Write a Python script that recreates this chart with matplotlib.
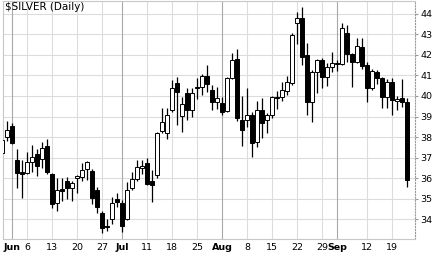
import matplotlib
matplotlib.use("Agg")
import matplotlib.pyplot as plt

# trading days shown (2011)
dates = ["May27", "May31", "Jun1", "Jun2", "Jun3", "Jun6", "Jun7", "Jun8", "Jun9", "Jun10",
         "Jun13", "Jun14", "Jun15", "Jun16", "Jun17", "Jun20", "Jun21", "Jun22", "Jun23", "Jun24",
         "Jun27", "Jun28", "Jun29", "Jun30", "Jul1", "Jul5", "Jul6", "Jul7", "Jul8",
         "Jul11", "Jul12", "Jul13", "Jul14", "Jul15", "Jul18", "Jul19", "Jul20", "Jul21", "Jul22",
         "Jul25", "Jul26", "Jul27", "Jul28", "Jul29", "Aug1", "Aug2", "Aug3", "Aug4", "Aug5",
         "Aug8", "Aug9", "Aug10", "Aug11", "Aug12", "Aug15", "Aug16", "Aug17", "Aug18", "Aug19",
         "Aug22", "Aug23", "Aug24", "Aug25", "Aug26", "Aug29", "Aug30", "Aug31", "Sep1", "Sep2",
         "Sep6", "Sep7", "Sep8", "Sep9", "Sep12", "Sep13", "Sep14", "Sep15", "Sep16",
         "Sep19", "Sep20", "Sep21", "Sep22"]

opens = [37.25, 38.0, 38.55, 36.9, 36.32, 36.25, 36.78, 37.2, 36.95, 37.55,
         36.2, 34.8, 35.5, 35.85, 35.55, 36.0, 36.08, 36.45, 36.37, 35.44,
         34.32, 33.7, 34.0, 35.0, 34.8, 34.0, 35.52, 35.95, 36.5,
         36.75, 35.87, 36.15, 38.3, 38.2, 39.3, 40.63, 39.02, 40.13, 39.33,
         40.42, 40.42, 40.97, 40.3, 39.72, 39.64, 39.25, 40.85, 41.78, 38.83,
         38.83, 39.07, 37.78, 39.32, 38.83, 39.07, 39.95, 39.93, 40.25, 40.64,
         43.55, 43.77, 41.98, 39.72, 41.17, 41.74, 40.9, 41.42, 41.6, 41.55,
         43.04, 42.03, 41.66, 42.39, 41.5, 40.37, 41.17, 40.85, 39.96,
         40.69, 39.77, 39.88, 39.72]
highs = [38.0, 38.8, 38.7, 37.4, 36.9, 37.3, 37.6, 37.4, 37.75, 37.9,
         36.25, 36.0, 36.0, 36.05, 35.85, 36.15, 36.72, 36.85, 36.45, 35.6,
         34.4, 34.0, 35.1, 35.3, 34.95, 35.8, 36.3, 36.9, 36.9,
         36.97, 36.4, 38.25, 39.4, 39.42, 40.75, 40.9, 39.95, 40.4, 40.37,
         40.85, 41.05, 41.5, 40.55, 40.45, 39.95, 40.9, 42.07, 42.3, 40.0,
         40.4, 39.2, 39.75, 39.88, 39.15, 40.0, 40.25, 40.7, 40.97, 43.05,
         44.1, 44.3, 42.55, 41.25, 41.8, 41.85, 41.6, 42.15, 41.75, 43.55,
         43.45, 42.1, 42.8, 42.8, 41.65, 41.3, 41.25, 40.9, 40.8,
         40.85, 40.0, 40.82, 39.88]
lows = [37.1, 37.8, 37.65, 35.55, 35.05, 36.2, 36.3, 36.1, 36.5, 36.2,
        34.55, 34.4, 34.9, 35.0, 34.9, 35.3, 35.85, 35.92, 34.75, 34.3,
        33.35, 33.45, 33.8, 34.6, 33.4, 33.95, 35.45, 35.85, 36.2,
        35.65, 34.85, 36.0, 38.2, 37.9, 39.2, 38.6, 38.25, 38.85, 38.96,
        39.85, 40.04, 40.2, 39.32, 39.35, 39.05, 39.2, 40.8, 38.8, 37.55,
        38.5, 37.02, 37.5, 37.95, 38.2, 38.95, 39.35, 39.75, 40.04, 40.53,
        42.5, 41.5, 39.07, 38.75, 40.13, 40.37, 40.48, 41.17, 41.2, 41.5,
        41.66, 40.44, 41.6, 41.3, 39.72, 40.3, 40.6, 39.4, 39.4,
        39.07, 39.32, 39.48, 35.56]
closes = [37.85, 38.35, 37.7, 36.25, 36.22, 36.8, 37.05, 36.6, 37.45, 36.3,
          34.75, 35.45, 35.4, 35.55, 35.78, 36.1, 36.4, 36.8, 35.05, 34.62,
          33.6, 33.62, 34.8, 34.83, 33.68, 35.45, 35.95, 36.55, 36.6,
          35.7, 35.68, 38.2, 38.72, 39.07, 40.37, 40.2, 39.6, 39.33, 40.13,
          40.37, 40.97, 40.56, 39.72, 39.88, 39.23, 40.85, 41.75, 38.92, 38.33,
          39.07, 37.73, 39.32, 38.67, 39.07, 39.93, 39.9, 40.29, 40.69, 42.96,
          43.77, 41.9, 39.72, 41.18, 41.74, 40.9, 41.42, 41.58, 41.55, 43.3,
          42.03, 41.66, 42.42, 41.45, 40.37, 41.22, 40.85, 39.96, 40.69,
          39.8, 39.83, 39.72, 35.92]

tick_dates = ["Jun1", "Jun6", "Jun13", "Jun20", "Jun27", "Jul1", "Jul11", "Jul18", "Jul25",
              "Aug1", "Aug8", "Aug15", "Aug22", "Aug29", "Sep1", "Sep12", "Sep19"]
tick_labels = ["Jun", "6", "13", "20", "27", "Jul", "11", "18", "25",
               "Aug", "8", "15", "22", "29", "Sep", "12", "19"]
month_labels = ["Jun", "Jul", "Aug", "Sep"]
price_ticks = [34, 35, 36, 37, 38, 39, 40, 41, 42, 43, 44]

fig = plt.figure(figsize=(4.4, 2.57), dpi=100)
ax = fig.add_axes([3 / 440, 1 - 239 / 257, 412 / 440, 238 / 257])
ax.set_xlim(0.12, 82.52)
ax.set_ylim(33.05, 44.61)

# grid
for p in price_ticks:
    ax.axhline(p, color="#dcdcdc", lw=0.8, zorder=0)
tick_pos = [dates.index(d) for d in tick_dates]
for pos, lab in zip(tick_pos, tick_labels):
    c = "#a8a8a8" if lab in month_labels else "#dcdcdc"
    ax.axvline(pos, color=c, lw=0.8, zorder=0)

# candles
for i in range(len(dates)):
    o, h, l, c = opens[i], highs[i], lows[i], closes[i]
    ax.vlines(i, l, h, color="black", lw=0.9, zorder=2)
    fc = "white" if c >= o else "black"
    ax.bar(i, max(abs(c - o), 0.02), bottom=min(o, c), width=0.82,
           color=fc, edgecolor="black", linewidth=0.7, zorder=3)

ax.text(0.005, 0.995, "$SILVER (Daily)", transform=ax.transAxes,
        ha="left", va="top", fontsize=7.5, color="black")

ax.set_xticks(tick_pos)
ax.set_xticklabels(tick_labels, fontsize=6.8)
for t in ax.get_xticklabels():
    if t.get_text() in month_labels:
        t.set_fontweight("bold")
ax.tick_params(axis="x", length=0, pad=3)

ax.yaxis.tick_right()
ax.set_yticks(price_ticks)
ax.set_yticklabels([str(p) for p in price_ticks], fontsize=6.8)
ax.tick_params(axis="y", length=2, pad=2, color="#999999")

for s in ["left", "top", "bottom"]:
    ax.spines[s].set_color("#c8c8c8")
    ax.spines[s].set_linewidth(0.8)
ax.spines["right"].set_color("#999999")
ax.spines["right"].set_linestyle(":")
ax.spines["right"].set_linewidth(0.8)

fig.savefig("out.png", dpi=100)
